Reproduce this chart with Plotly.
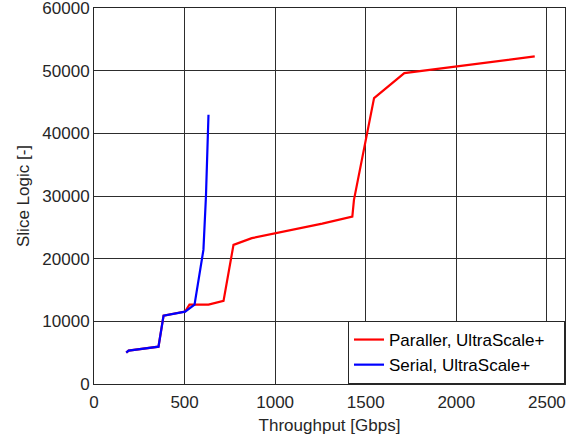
import plotly.graph_objects as go

# Data
par_x = [178, 191, 356, 384, 503, 527, 632, 715, 770, 871, 1260, 1426, 1435, 1546, 1713, 2433]
par_y = [5000, 5320, 5960, 10910, 11550, 12660, 12660, 13260, 22200, 23270, 25600, 26720, 29390, 45630, 49620, 52270]

ser_x = [178, 191, 356, 384, 503, 555, 604, 618, 632]
ser_y = [5000, 5320, 5960, 10910, 11550, 12660, 21400, 29910, 42960]

x_ticks = [0, 500, 1000, 1500, 2000, 2500]
y_ticks = [0, 10000, 20000, 30000, 40000, 50000, 60000]

FONT = "Liberation Sans, Arial, Helvetica, sans-serif"
TXT = "#262626"
GRID = "rgb(45,45,45)"
PAD = "\u00a0" * 3

fig = go.Figure()
fig.add_trace(go.Scatter(x=par_x, y=par_y, mode="lines", name="Paraller, UltraScale+" + PAD,
                         line=dict(color="rgb(255,0,0)", width=2.2)))
fig.add_trace(go.Scatter(x=ser_x, y=ser_y, mode="lines", name="Serial, UltraScale+" + PAD,
                         line=dict(color="rgb(0,0,255)", width=2.2)))

axis_common = dict(
    showline=True, linecolor=TXT, linewidth=1, mirror=True,
    showgrid=True, gridcolor=GRID, gridwidth=1.1,
    zeroline=False, ticks="", color=TXT, automargin=False,
    ticklabeloverflow="allow",
    tickfont=dict(family=FONT, size=17, color=TXT),
    title_font=dict(family=FONT, size=17, color=TXT),
)

fig.update_layout(
    width=572, height=435,
    margin=dict(l=94, r=7, t=8, b=51),
    paper_bgcolor="white", plot_bgcolor="white",
    font=dict(family=FONT, size=17, color=TXT),
    xaxis=dict(range=[0, 2600], tickvals=x_ticks, ticktext=[str(v) for v in x_ticks],
               ticklabelstandoff=3,
               title=dict(text="Throughput [Gbps]", standoff=8), **axis_common),
    yaxis=dict(range=[0, 60000], tickvals=y_ticks, ticktext=[str(v) for v in y_ticks],
               title=dict(text="Slice Logic [-]", standoff=8), **axis_common),
    legend=dict(x=1, y=0, xanchor="right", yanchor="bottom",
                bordercolor=TXT, borderwidth=1, bgcolor="white",
                font=dict(family=FONT, size=17, color="black"),
                itemwidth=30, tracegroupgap=0),
    showlegend=True,
)

fig.write_html("out.html")
